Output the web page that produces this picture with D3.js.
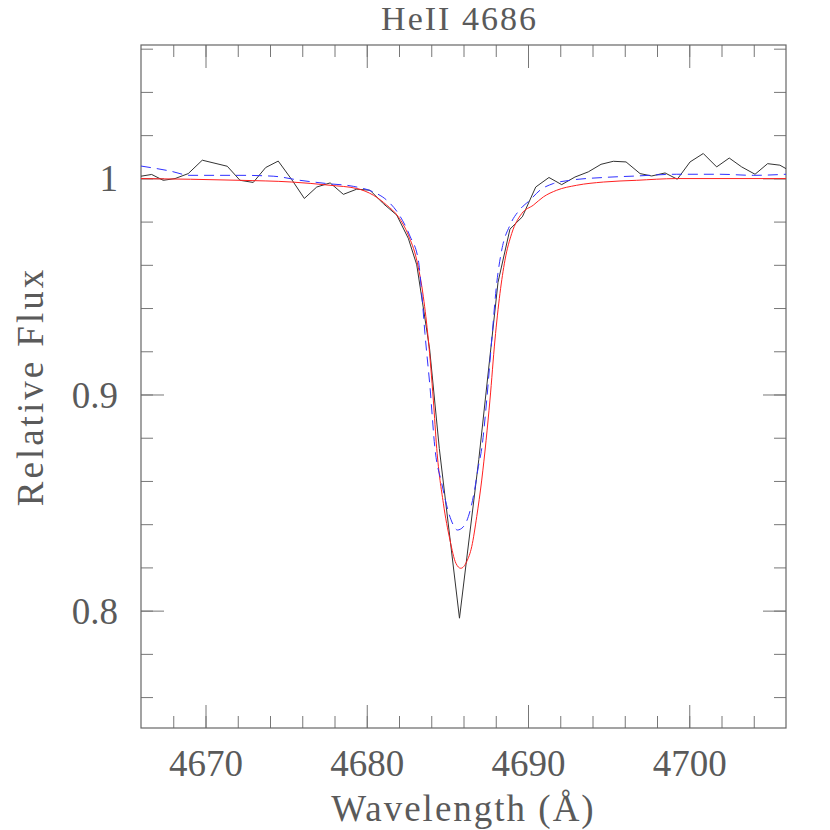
<!DOCTYPE html>
<html>
<head>
<meta charset="utf-8">
<script src="https://cdn.jsdelivr.net/npm/d3@7"></script>
<style>
  body { margin: 0; background: #fff; }
  text { font-family: "Liberation Serif", "DejaVu Serif", serif; fill: #5a5a5a; }
</style>
</head>
<body>
<div id="chart-area"></div>
<script>
// Observed spectrum (black)
const obsWave = [4666.0, 4666.66, 4667.38, 4668.11, 4668.93, 4669.80, 4671.35, 4672.14, 4672.96, 4673.73,
  4674.51, 4675.35, 4676.13, 4676.90, 4677.73, 4678.55, 4679.38, 4680.20, 4681.03, 4681.86,
  4682.58, 4683.10, 4683.90, 4684.50, 4685.75, 4686.95, 4687.55, 4688.14, 4688.88, 4689.65,
  4690.48, 4691.30, 4692.09, 4692.91, 4693.74, 4694.53, 4695.29, 4696.08, 4696.95, 4697.67,
  4698.50, 4699.26, 4700.05, 4700.87, 4701.70, 4702.48, 4703.25, 4704.08, 4704.86, 4705.62, 4706.0];
const obsFlux = [1.0010, 1.0018, 0.9991, 0.9999, 1.0022, 1.0084, 1.0056, 0.9991, 0.9981, 1.0050,
  1.0080, 0.9994, 0.9907, 0.9960, 0.9979, 0.9926, 0.9950, 0.9945, 0.9883, 0.9830,
  0.9722, 0.9600, 0.9210, 0.8750, 0.7965, 0.8700, 0.9113, 0.9519, 0.9765, 0.9822,
  0.9960, 1.0004, 0.9971, 1.0006, 1.0030, 1.0065, 1.0079, 1.0076, 1.0022, 1.0011,
  1.0025, 0.9996, 1.0076, 1.0115, 1.0053, 1.0094, 1.0053, 1.0019, 1.0068, 1.0061, 1.0045];

// Model 1 (red, solid)
const redWave = [4666.0, 4672.14, 4675.35, 4677.72, 4679.38, 4680.41, 4681.24, 4681.96, 4682.58, 4683.10,
  4683.51, 4683.82, 4684.13, 4684.34, 4684.75, 4685.16, 4685.53, 4685.83, 4686.20, 4686.51,
  4686.82, 4687.13, 4687.40, 4687.64, 4687.95, 4688.26, 4688.57, 4688.99, 4689.61, 4690.33,
  4690.95, 4691.78, 4693.02, 4694.67, 4696.74, 4699.22, 4706.0];
const redFlux = [0.9999, 0.9991, 0.9983, 0.9968, 0.9953, 0.9922, 0.9876, 0.9822, 0.9737, 0.9621,
  0.9452, 0.9252, 0.8974, 0.8750, 0.8497, 0.8327, 0.8219, 0.8196, 0.8227, 0.8296,
  0.8435, 0.8604, 0.8787, 0.8974, 0.9252, 0.9467, 0.9621, 0.9745, 0.9837, 0.9876,
  0.9914, 0.9945, 0.9968, 0.9983, 0.9991, 0.9999, 0.9999];

// Model 2 (blue, dashed)
const blueWave = [4666.0, 4667.80, 4669.04, 4672.14, 4674.20, 4675.86, 4677.52, 4679.17, 4680.41, 4681.24,
  4681.96, 4682.68, 4683.20, 4683.41, 4683.61, 4683.92, 4684.23, 4684.65, 4685.06, 4685.37,
  4685.62, 4685.99, 4686.30, 4686.65, 4686.92, 4687.13, 4687.44, 4687.75, 4688.06, 4688.37,
  4688.88, 4689.50, 4690.12, 4690.74, 4691.57, 4692.60, 4694.67, 4696.74, 4699.22, 4701.91,
  4703.97, 4706.0];
const blueFlux = [1.0057, 1.0034, 1.0014, 1.0014, 1.0010, 0.9991, 0.9976, 0.9963, 0.9937, 0.9899,
  0.9837, 0.9733, 0.9621, 0.9467, 0.9282, 0.9036, 0.8750, 0.8589, 0.8458, 0.8396,
  0.8373, 0.8388, 0.8435, 0.8543, 0.8666, 0.8750, 0.8974, 0.9252, 0.9514, 0.9668,
  0.9783, 0.9856, 0.9899, 0.9945, 0.9976, 0.9991, 1.0004, 1.0011, 1.0019, 1.0019,
  1.0014, 1.0019];

// Ticks
const xMajor = [4670, 4680, 4690, 4700];
const xMinor = d3.range(4668, 4706, 2);
const yMajor = [0.8, 0.9, 1];
const yMinor = [0.76, 0.78, 0.80, 0.82, 0.84, 0.86, 0.88, 0.90, 0.92, 0.94, 0.96, 0.98, 1.00, 1.02, 1.04, 1.06];

const margin = { left: 141, right: 44, top: 45, bottom: 102 },
    width = 830 - margin.left - margin.right,
    height = 830 - margin.top - margin.bottom;

const svg = d3.select("#chart-area").append("svg")
    .attr("width", 830)
    .attr("height", 830);

const g = svg.append("g")
    .attr("transform", "translate(" + margin.left + "," + margin.top + ")");

const x = d3.scaleLinear().domain([4666, 4706]).range([0, width]);
const y = d3.scaleLinear().domain([0.7457, 1.0617]).range([height, 0]);

// Axes (ticks pointing inward)
function tickAxis(axis, cls, tx, ty) {
    const a = g.append("g").attr("class", cls)
        .attr("transform", "translate(" + tx + "," + ty + ")")
        .call(axis);
    a.select(".domain").remove();
    a.selectAll("line").attr("stroke", "#777");
    return a;
}

tickAxis(d3.axisBottom(x).tickValues(xMinor).tickSize(-12).tickFormat(""), "x minor", 0, height);
tickAxis(d3.axisTop(x).tickValues(xMinor).tickSize(-12).tickFormat(""), "x minor", 0, 0);
tickAxis(d3.axisTop(x).tickValues(xMajor).tickSize(-23).tickFormat(""), "x major", 0, 0);
const xAx = tickAxis(d3.axisBottom(x).tickValues(xMajor).tickSize(-23).tickPadding(22)
    .tickFormat(d3.format("d")), "x major", 0, height);
xAx.selectAll("text").attr("font-size", 37).attr("fill", "#5a5a5a").style("font-family", null);

tickAxis(d3.axisLeft(y).tickValues(yMinor).tickSize(-12).tickFormat(""), "y minor", 0, 0);
tickAxis(d3.axisRight(y).tickValues(yMinor).tickSize(-12).tickFormat(""), "y minor", width, 0);
tickAxis(d3.axisRight(y).tickValues(yMajor).tickSize(-23).tickFormat(""), "y major", width, 0);
const yAx = tickAxis(d3.axisLeft(y).tickValues(yMajor).tickSize(-23).tickPadding(23)
    .tickFormat(d3.format("")), "y major", 0, 0);
yAx.selectAll("text").attr("font-size", 37).attr("fill", "#5a5a5a").attr("dy", "0.34em")
    .style("font-family", null);

// Frame
g.append("rect")
    .attr("width", width)
    .attr("height", height)
    .attr("fill", "none")
    .attr("stroke", "#666")
    .attr("stroke-width", 1.2);

// Clip
svg.append("clipPath").attr("id", "clip")
    .append("rect").attr("width", width).attr("height", height);

const plot = g.append("g").attr("clip-path", "url(#clip)");

const smooth = d3.line()
    .x((d) => { return x(d[0]); })
    .y((d) => { return y(d[1]); })
    .curve(d3.curveMonotoneX);
const straight = d3.line()
    .x((d) => { return x(d[0]); })
    .y((d) => { return y(d[1]); });

plot.append("path")
    .attr("d", straight(d3.zip(obsWave, obsFlux)))
    .attr("fill", "none")
    .attr("stroke", "#333")
    .attr("stroke-width", 1);

plot.append("path")
    .attr("d", smooth(d3.zip(redWave, redFlux)))
    .attr("fill", "none")
    .attr("stroke", "#ff2020")
    .attr("stroke-width", 1);

plot.append("path")
    .attr("d", smooth(d3.zip(blueWave, blueFlux)))
    .attr("fill", "none")
    .attr("stroke", "#3030ff")
    .attr("stroke-width", 1)
    .attr("stroke-dasharray", "10,6");

// Labels
svg.append("text")
    .attr("x", margin.left + width / 2 - 4)
    .attr("y", 30)
    .attr("text-anchor", "middle")
    .attr("font-size", 34)
    .attr("letter-spacing", 2)
    .text("HeII 4686");

svg.append("text")
    .attr("x", margin.left + width / 2)
    .attr("y", 821)
    .attr("text-anchor", "middle")
    .attr("font-size", 37)
    .attr("letter-spacing", 2)
    .text("Wavelength (Å)");

svg.append("text")
    .attr("transform", "translate(43," + (margin.top + height / 2) + ") rotate(-90)")
    .attr("text-anchor", "middle")
    .attr("font-size", 37)
    .attr("letter-spacing", 3)
    .text("Relative Flux");
</script>
</body>
</html>
